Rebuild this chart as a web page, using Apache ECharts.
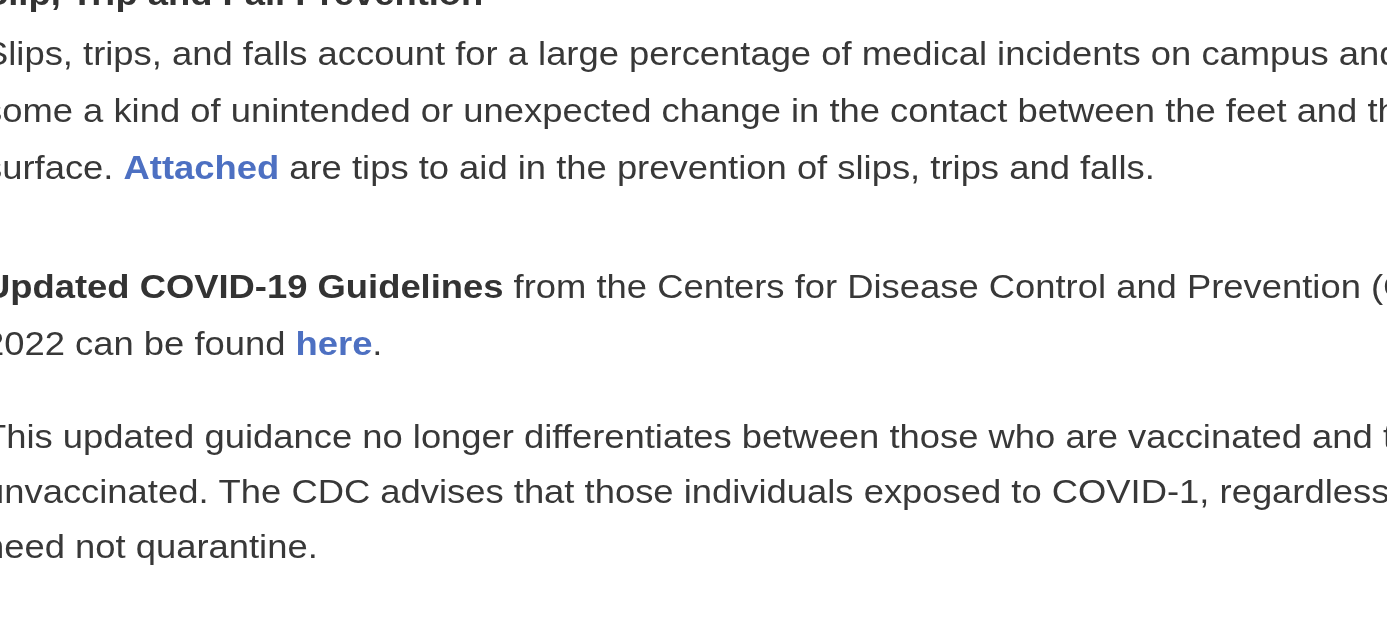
<!DOCTYPE html>
<html>
<head>
<meta charset="utf-8">
<script src="https://cdn.jsdelivr.net/npm/echarts@6/dist/echarts.min.js"></script>
<style>
html,body{margin:0;padding:0;background:#fff;overflow:hidden;}
#c{width:1387px;height:633px;}
</style>
</head>
<body>
<div id="c"></div>
<script>
// Text content (segments: [style, text]; styles: n = normal, b = bold, a = link)
const headingLines = [
  [['b', 'Slip, Trip and Fall Prevention']]
];
const para1Lines = [
  [['n', 'Slips, trips, and falls account for a large percentage of medical incidents on campus and']],
  [['n', 'some a kind of unintended or unexpected change in the contact between the feet and the']],
  [['n', 'surface. '], ['a', 'Attached'], ['n', ' are tips to aid in the prevention of slips, trips and falls.']]
];
const para2Lines = [
  [['b', 'Updated COVID-19 Guidelines'], ['n', ' from the Centers for Disease Control and Prevention (CDC)']],
  [['n', '2022 can be found '], ['a', 'here'], ['n', '.']]
];
const para3Lines = [
  [['n', 'This updated guidance no longer differentiates between those who are vaccinated and those']],
  [['n', 'unvaccinated. The CDC advises that those individuals exposed to COVID-1, regardless of']],
  [['n', 'need not quarantine.']]
];

const FS = 34;
const SX = 1.07;
const LEFT = -16;
const FONT = '"Liberation Sans", Arial, sans-serif';
const blocks = [
  {lines: headingLines, baseline: 8, step: 57},
  {lines: para1Lines, baseline: 68, step: 57},
  {lines: para2Lines, baseline: 301, step: 57},
  {lines: para3Lines, baseline: 451, step: 55}
];

function toRich(segs) {
  return segs.map(function (s) { return '{' + s[0] + '|' + s[1] + '}'; }).join('');
}

const elements = [];
blocks.forEach(function (blk) {
  blk.lines.forEach(function (segs, i) {
    const base = blk.baseline + i * blk.step;
    elements.push({
      type: 'text',
      x: LEFT,
      y: base - Math.round(FS * 0.36),
      scaleX: SX,
      silent: true,
      style: {
        text: toRich(segs),
        fontSize: FS,
        fontFamily: FONT,
        fill: '#383838',
        align: 'left',
        verticalAlign: 'middle',
        rich: {
          n: {fontSize: FS, fontFamily: FONT, fill: '#383838', lineHeight: FS},
          b: {fontSize: FS, fontFamily: FONT, fill: '#333333', fontWeight: 'bold', lineHeight: FS},
          a: {fontSize: FS, fontFamily: FONT, fill: '#4d70c2', fontWeight: 'bold', lineHeight: FS}
        }
      }
    });
  });
});

const chart = echarts.init(document.getElementById('c'), null, {renderer: 'canvas'});
chart.setOption({
  backgroundColor: '#ffffff',
  animation: false,
  graphic: {elements: elements}
});
</script>
</body>
</html>
